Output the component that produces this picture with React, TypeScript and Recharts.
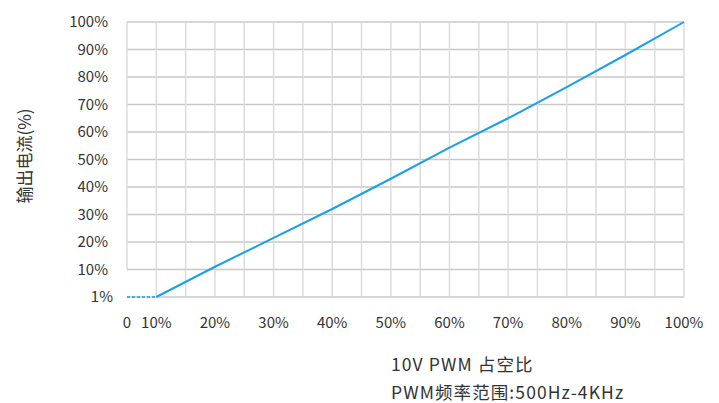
import React from 'react';
import { LineChart, Line, XAxis, YAxis, CartesianGrid, ReferenceLine } from 'recharts';

// PWM duty cycle (%) and output current (%)
const duty = [0, 10, 20, 30, 40, 50, 60, 70, 80, 90, 100];
const current = [1, 1, 11, 21.5, 32, 43, 54.3, 65, 76.3, 88, 100];

const xTicks = [0, 10, 20, 30, 40, 50, 60, 70, 80, 90, 100];
const yTicks = [1, 10, 20, 30, 40, 50, 60, 70, 80, 90, 100];
const xGrid = [10, 15, 20, 25, 30, 35, 40, 45, 50, 55, 60, 65, 70, 75, 80, 85, 90, 95, 100];

const yTitle = '输出电流(%)';
const xTitle1 = '10V PWM 占空比';
const xTitle2 = 'PWM频率范围:500Hz-4KHz';

// the axes are stretched below 10%: 0..10% duty takes half a step, 1..10% current takes one step
const xPos = (d: number) => (d < 10 ? 5 + d / 2 : d);
const yPos = (v: number) => (v < 10 ? ((v - 1) / 9) * 10 : v);

const data = duty.map((d, i) => ({
  x: xPos(d),
  solid: d >= 10 ? yPos(current[i]) : null,
  dash: d <= 10 ? yPos(current[i]) : null,
}));

const FONT = '"Noto Sans CJK SC", "Noto Sans", sans-serif';
const TEXT = '#333333';
const BLUE = '#1aa0e8';

const XTick = (props: any) => {
  const { x, y, payload } = props;
  const raw = xTicks.find((t) => xPos(t) === payload.value);
  return (
    <text x={x} y={y + 31} textAnchor="middle" fill={TEXT} fontSize={15} fontFamily={FONT}>
      {raw === 0 ? '0' : `${raw}%`}
    </text>
  );
};

const YTick = (props: any) => {
  const { x, y, payload } = props;
  const raw = yTicks.find((t) => yPos(t) === payload.value);
  return (
    <text
      x={x - (raw === 1 ? 14 : 19)}
      y={y + 5}
      textAnchor="end"
      fill={TEXT}
      fontSize={15}
      fontFamily={FONT}
    >
      {`${raw}%`}
    </text>
  );
};

export default function App() {
  return (
    <div style={{ position: 'absolute', left: 0, top: 0, width: 719, height: 403, background: '#fff' }}>
      <LineChart width={719} height={403} data={data} margin={{ top: 22, right: 35, left: 0, bottom: 0 }}>
        <CartesianGrid vertical={false} stroke="#c8c8c8" strokeWidth={1.3} />
        {xGrid.map((g) => (
          <ReferenceLine key={g} x={xPos(g)} stroke="#dcdcdc" strokeWidth={1.5} />
        ))}
        <ReferenceLine
          segment={[
            { x: xPos(0), y: yPos(10) },
            { x: xPos(0), y: yPos(100) },
          ]}
          stroke="#dcdcdc"
          strokeWidth={1.5}
        />
        <XAxis
          type="number"
          dataKey="x"
          domain={[5, 100]}
          ticks={xTicks.map(xPos)}
          axisLine={false}
          tickLine={false}
          tickSize={0}
          tickMargin={0}
          height={106}
          tick={<XTick />}
          interval={0}
        />
        <YAxis
          type="number"
          domain={[0, 100]}
          ticks={yTicks.map(yPos)}
          axisLine={false}
          tickLine={false}
          tickSize={0}
          tickMargin={0}
          width={127}
          tick={<YTick />}
          interval={0}
        />
        <Line
          dataKey="dash"
          stroke={BLUE}
          strokeWidth={1.5}
          strokeDasharray="3 2"
          dot={false}
          isAnimationActive={false}
          connectNulls={false}
        />
        <Line dataKey="solid" stroke={BLUE} strokeWidth={2} dot={false} isAnimationActive={false} />
      </LineChart>
      <svg
        width={719}
        height={403}
        style={{ position: 'absolute', left: 0, top: 0, pointerEvents: 'none' }}
      >
        <text
          x={0}
          y={0}
          transform="translate(31 156) rotate(-90)"
          textAnchor="middle"
          fill={TEXT}
          fontSize={17}
          fontFamily={FONT}
        >
          {yTitle}
        </text>
        <text x={391} y={371} fill={TEXT} fontSize={17.5} letterSpacing={1.1} fontFamily={FONT}>
          {xTitle1}
        </text>
        <text x={391} y={399} fill={TEXT} fontSize={17.5} letterSpacing={1.1} fontFamily={FONT}>
          {xTitle2}
        </text>
      </svg>
    </div>
  );
}
